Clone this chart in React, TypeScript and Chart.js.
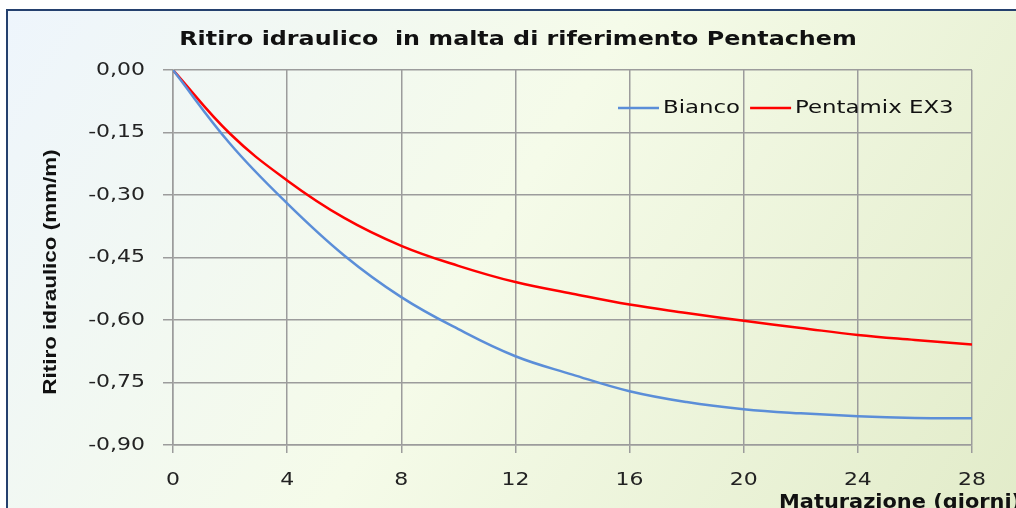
import React, { useEffect, useRef } from "react";
import { Chart, registerables } from "chart.js";

Chart.register(...registerables);

const chartTitle = "Ritiro idraulico  in malta di riferimento Pentachem";
const yAxisTitle = "Ritiro idraulico (mm/m)";
const xAxisTitle = "Maturazione (giorni)";

const days = [0, 2, 4, 6, 8, 10, 12, 14, 16, 18, 20, 22, 24, 26, 28];
const bianco = [0, -0.177, -0.32, -0.445, -0.545, -0.622, -0.687, -0.731, -0.771, -0.797, -0.814, -0.824, -0.831, -0.835, -0.836];
const pentamix = [0, -0.153, -0.265, -0.355, -0.422, -0.47, -0.509, -0.537, -0.563, -0.583, -0.602, -0.619, -0.636, -0.648, -0.659];

const seriesNames = ["Bianco", "Pentamix EX3"];
const seriesColors = ["#5B8ED8", "#FF0000"];

const SANS = "'DejaVu Sans', Verdana, sans-serif";
const fmt = (v: number) => v.toFixed(2).replace(".", ",");

function drawStretched(ctx: any, text: string, x: number, y: number, align: "left" | "right" | "center", sx: number) {
  ctx.save();
  ctx.translate(x, y);
  ctx.scale(sx, 1);
  ctx.textAlign = align;
  ctx.textBaseline = "middle";
  ctx.fillText(text, 0, 0);
  ctx.restore();
}

const frameAndTextPlugin = {
  id: "frameAndText",
  beforeDraw(chart: any) {
    const { ctx, width, height } = chart;
    ctx.save();
    ctx.fillStyle = "#ffffff";
    ctx.fillRect(0, 0, width, height);
    const fx = 7, fy = 10;
    const grad = ctx.createLinearGradient(fx, fy, width, height + 120);
    grad.addColorStop(0, "#EEF5FC");
    grad.addColorStop(0.45, "#F5FBE9");
    grad.addColorStop(1, "#E0EAC6");
    ctx.fillStyle = grad;
    ctx.fillRect(fx, fy, width + 20, height + 20);
    ctx.strokeStyle = "#24406E";
    ctx.lineWidth = 2;
    ctx.strokeRect(fx, fy, width + 20, height + 20);
    ctx.restore();
  },
  afterDraw(chart: any) {
    const { ctx, chartArea, scales } = chart;
    ctx.save();
    ctx.fillStyle = "#111111";
    // title
    ctx.font = "bold 20px " + SANS;
    drawStretched(ctx, chartTitle, 518, 40, "center", 1.19);
    // y-axis title
    ctx.save();
    ctx.translate(51, 272);
    ctx.rotate(-Math.PI / 2);
    ctx.font = "bold 19px 'Liberation Sans Narrow', 'Arial Narrow', 'Liberation Sans', sans-serif";
    ctx.scale(1.18, 1);
    ctx.textAlign = "center";
    ctx.textBaseline = "middle";
    ctx.fillText(yAxisTitle, 0, 0);
    ctx.restore();
    // x-axis title
    ctx.font = "bold 19px " + SANS;
    drawStretched(ctx, xAxisTitle, 779, 503, "left", 1.1);
    // tick labels
    ctx.font = "18px " + SANS;
    ctx.fillStyle = "#222222";
    scales.y.ticks.forEach((t: any) => {
      drawStretched(ctx, fmt(t.value), chartArea.left - 28, scales.y.getPixelForValue(t.value), "right", 1.22);
    });
    scales.x.ticks.forEach((t: any) => {
      drawStretched(ctx, String(t.value), scales.x.getPixelForValue(t.value), 480, "center", 1.22);
    });
    // legend
    const ly = 108;
    let x = chartArea.right - 354;
    ctx.font = "18px " + SANS;
    chart.data.datasets.forEach((ds: any) => {
      ctx.strokeStyle = ds.borderColor;
      ctx.lineWidth = 2.5;
      ctx.beginPath();
      ctx.moveTo(x, ly);
      ctx.lineTo(x + 41, ly);
      ctx.stroke();
      ctx.fillStyle = "#111111";
      const sx = 1.27;
      drawStretched(ctx, ds.label, x + 45, ly, "left", sx);
      x += 45 + ctx.measureText(ds.label).width * sx + 10;
    });
    ctx.restore();
  },
};

export default function App() {
  const ref = useRef<HTMLCanvasElement>(null);
  useEffect(() => {
    if (!ref.current) return;
    const chart = new Chart(ref.current, {
      type: "line",
      data: {
        datasets: [
          {
            label: seriesNames[0],
            data: days.map((d, i) => ({ x: d, y: bianco[i] })),
            borderColor: seriesColors[0],
            borderWidth: 2.5,
            pointRadius: 0,
            tension: 0.4,
            fill: false,
          },
          {
            label: seriesNames[1],
            data: days.map((d, i) => ({ x: d, y: pentamix[i] })),
            borderColor: seriesColors[1],
            borderWidth: 2.5,
            pointRadius: 0,
            tension: 0.4,
            fill: false,
          },
        ],
      },
      options: {
        responsive: false,
        animation: false,
        devicePixelRatio: 1,
        layout: { padding: { left: 0, top: 70, right: 44, bottom: 0 } },
        plugins: { legend: { display: false }, title: { display: false }, tooltip: { enabled: false } },
        scales: {
          x: {
            type: "linear",
            min: 0,
            max: 28,
            afterFit: (s: any) => { s.height = 63; },
            ticks: { stepSize: 4, display: false },
            grid: { color: "#9c9c9c", lineWidth: 1.5, tickLength: 8 },
            border: { color: "#9c9c9c", width: 1.5 },
          },
          y: {
            type: "linear",
            min: -0.9,
            max: 0,
            afterFit: (s: any) => { s.width = 173; },
            ticks: { stepSize: 0.15, display: false },
            grid: { color: "#9c9c9c", lineWidth: 1.5, tickLength: 10 },
            border: { color: "#9c9c9c", width: 1.5 },
          },
        },
      },
      plugins: [frameAndTextPlugin],
    } as any);
    return () => chart.destroy();
  }, []);
  return (
    <div style={{ position: "fixed", left: 0, top: 0, width: 1016, height: 508 }}>
      <canvas ref={ref} width={1016} height={508} style={{ display: "block" }} />
    </div>
  );
}
